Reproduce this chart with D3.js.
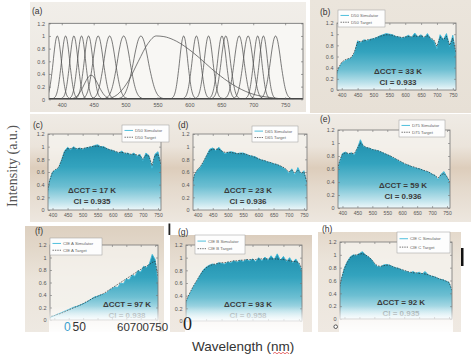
<!DOCTYPE html>
<html><head><meta charset="utf-8">
<script src="https://cdn.jsdelivr.net/npm/d3@7"></script>
<style>body{margin:0;background:#fff}svg{display:block}</style>
</head><body>
<svg id="chart" width="473" height="355"></svg>
<script>
// ---------------- DATA ----------------
const wavelengths = [380,390,400,410,420,430,440,450,460,470,480,490,500,510,520,530,540,550,560,570,580,590,600,610,620,630,640,650,660,670,680,690,700,710,720,730,740,750,760];
const xTicksSpec = [400,450,500,550,600,650,700,750];
const yTicks = [0,0.2,0.4,0.6,0.8,1,1.2];

// panel (a): LED channel spectra (peak nm, FWHM nm, relative amplitude)
const ledPeaks = [393,406,419,431,442,446,457,475,497,524,591,611,630,651,657,678,692,707,716,735];
const ledFwhm  = [15,15,15,15,16,26,19,21,23,27,15,16,16,16,17,18,18,15,15,19];
const ledAmps  = [1,1,1,1,1,0.38,1,1,1,1,1,1,1,1,1,1,1,1,1,1];
const ledProfileOffset = [-1.5,-1.1,-0.8,-0.5,-0.3,-0.15,0,0.15,0.3,0.5,0.8,1.1,1.5];
const ledProfileValue  = [0,0.035,0.17,0.5,0.78,0.94,1,0.94,0.78,0.5,0.17,0.035,0];
const phosphorWl  = [470,490,505,520,535,548,560,575,595,615,635,655,675,700,725,755];
const phosphorVal = [0,0.1,0.3,0.6,0.88,1.0,0.99,0.94,0.82,0.66,0.48,0.32,0.19,0.08,0.03,0];

// panels (b)-(h): simulator and target spectra
const d50bSim = [0.22,0.38,0.48,0.52,0.55,0.57,0.66,0.88,0.85,0.90,0.88,0.91,0.92,0.94,0.97,0.99,1.01,1.00,0.99,0.96,0.95,0.93,0.95,0.98,0.94,1.02,0.95,0.99,0.93,1.01,0.92,0.88,0.74,0.99,0.90,1.01,0.78,0.98,0.62];
const d50bTgt = [0.24,0.40,0.50,0.54,0.56,0.58,0.68,0.86,0.87,0.88,0.90,0.90,0.92,0.94,0.96,0.98,0.99,0.99,0.98,0.96,0.95,0.94,0.95,0.96,0.95,0.97,0.96,0.97,0.95,0.97,0.93,0.90,0.78,0.95,0.90,0.96,0.80,0.93,0.66];
const d50cSim = [0.20,0.45,0.60,0.63,0.66,0.79,0.93,0.99,0.95,1.00,0.96,0.98,0.96,0.98,0.99,1.00,1.02,1.03,1.00,1.00,0.97,0.95,0.94,0.92,0.90,0.93,0.89,0.90,0.87,0.90,0.85,0.88,0.78,0.90,0.86,0.66,0.88,0.92,0.70];
const d50cTgt = [0.22,0.46,0.60,0.64,0.67,0.78,0.92,0.97,0.97,0.98,0.97,0.97,0.97,0.98,0.99,1.00,1.01,1.01,1.00,0.99,0.97,0.95,0.94,0.92,0.91,0.91,0.90,0.89,0.88,0.88,0.87,0.86,0.80,0.87,0.85,0.70,0.86,0.88,0.72];
const d65Sim  = [0.35,0.55,0.63,0.68,0.76,0.86,0.96,0.98,0.94,0.99,0.93,0.89,0.91,0.92,0.91,0.89,0.90,0.90,0.88,0.86,0.85,0.84,0.81,0.79,0.78,0.76,0.75,0.73,0.72,0.70,0.67,0.64,0.58,0.65,0.55,0.67,0.57,0.62,0.40];
const d65Tgt  = [0.37,0.56,0.64,0.69,0.77,0.86,0.94,0.96,0.96,0.96,0.93,0.91,0.91,0.91,0.90,0.89,0.89,0.89,0.88,0.86,0.85,0.83,0.81,0.79,0.78,0.76,0.75,0.73,0.72,0.70,0.68,0.65,0.60,0.63,0.58,0.63,0.58,0.60,0.43];
const d75Sim  = [0.50,0.70,0.84,0.86,0.83,0.85,0.82,0.92,1.05,0.95,0.93,0.92,0.90,0.89,0.88,0.86,0.84,0.82,0.80,0.77,0.75,0.72,0.70,0.67,0.66,0.64,0.62,0.61,0.60,0.58,0.56,0.55,0.52,0.50,0.43,0.52,0.56,0.47,0.38];
const d75Tgt  = [0.52,0.72,0.83,0.85,0.84,0.84,0.84,0.92,1.00,0.96,0.93,0.92,0.90,0.89,0.88,0.86,0.84,0.82,0.80,0.78,0.75,0.73,0.70,0.68,0.66,0.64,0.63,0.61,0.60,0.58,0.57,0.55,0.52,0.50,0.46,0.51,0.53,0.48,0.40];
const cieASim = [0.03,0.05,0.07,0.09,0.11,0.13,0.15,0.17,0.19,0.21,0.22,0.24,0.26,0.28,0.31,0.34,0.37,0.38,0.40,0.41,0.43,0.47,0.50,0.53,0.52,0.59,0.58,0.66,0.64,0.72,0.70,0.79,0.77,0.86,0.84,0.90,1.05,0.97,0.60];
const cieATgt = [0.04,0.06,0.07,0.09,0.10,0.12,0.14,0.16,0.18,0.20,0.22,0.24,0.26,0.29,0.31,0.34,0.36,0.38,0.40,0.42,0.45,0.48,0.51,0.54,0.57,0.60,0.63,0.66,0.69,0.72,0.75,0.78,0.81,0.84,0.86,0.89,0.92,0.94,0.70];
const cieBSim = [0.25,0.35,0.45,0.55,0.63,0.72,0.80,0.85,0.88,0.90,0.89,0.92,0.91,0.90,0.93,0.92,0.95,0.93,0.96,0.94,0.97,0.95,0.98,0.94,1.00,0.95,1.01,0.96,1.03,0.97,1.06,0.96,1.02,0.94,1.00,0.92,0.98,0.90,0.80];
const cieBTgt = [0.27,0.37,0.47,0.56,0.64,0.72,0.79,0.84,0.87,0.89,0.90,0.91,0.92,0.92,0.93,0.94,0.95,0.95,0.96,0.96,0.97,0.97,0.97,0.97,0.98,0.98,0.98,0.98,0.98,0.98,0.98,0.97,0.97,0.96,0.95,0.94,0.94,0.92,0.82];
const cieCSim = [0.40,0.62,0.80,0.90,0.97,1.00,0.99,1.02,1.05,1.00,0.97,0.93,0.86,0.82,0.81,0.84,0.85,0.84,0.82,0.80,0.79,0.77,0.75,0.74,0.72,0.74,0.71,0.73,0.70,0.74,0.69,0.67,0.66,0.64,0.62,0.61,0.59,0.57,0.42];
const cieCTgt = [0.42,0.63,0.79,0.89,0.96,0.99,1.00,1.01,1.02,1.00,0.97,0.93,0.87,0.83,0.82,0.83,0.84,0.84,0.82,0.80,0.79,0.77,0.76,0.74,0.73,0.72,0.72,0.71,0.71,0.70,0.69,0.67,0.66,0.64,0.62,0.61,0.59,0.57,0.45];

const illuminants = ["D50","D50","D65","D75","CIE A","CIE B","CIE C"];
const deltaCCT    = [33,17,23,59,97,93,92];
const ciValues    = ["0.933","0.935","0.936","0.936","0.938","0.958","0.935"];
const panelLabels = ["(b)","(c)","(d)","(e)","(f)","(g)","(h)"];
const simSeries   = [d50bSim,d50cSim,d65Sim,d75Sim,cieASim,cieBSim,cieCSim];
const tgtSeries   = [d50bTgt,d50cTgt,d65Tgt,d75Tgt,cieATgt,cieBTgt,cieCTgt];

// ---------------- LAYOUT ----------------
const layout = [
  {x0:337,x1:456,y0:23,y1:90,  lab:[320,15],  leg:[338,10,47,17],  txt:[398,74],  xl:true},
  {x0:48, x1:161,y0:134,y1:210,lab:[33,128],  leg:[122,125,47,17], txt:[92,193],  xl:true},
  {x0:193,x1:307,y0:134,y1:210,lab:[178,128], leg:[252,126,46,16], txt:[248,193], xl:true},
  {x0:338,x1:450,y0:130,y1:208,lab:[320,122], leg:[399,120,46,17], txt:[403,188], xl:true},
  {x0:50, x1:158,y0:245,y1:320,lab:[35,234],  leg:[50,238,52,17],  txt:[127,307], xl:false},
  {x0:186,x1:302,y0:245,y1:321,lab:[178,235], leg:[195,235,50,19], txt:[248,307], xl:false},
  {x0:340,x1:452,y0:242,y1:319,lab:[322,232], leg:[397,232,53,21], txt:[401,305], xl:false}
];

const svg = d3.select('#chart');
const defs = svg.append('defs');
const SANS = "'Liberation Sans', Arial, sans-serif";
const SERIF = "'Liberation Serif', 'Times New Roman', serif";

function vgrad(id, stops){
  const lg = defs.append('linearGradient').attr('id',id).attr('x1',0).attr('x2',0).attr('y1',0).attr('y2',1);
  stops.forEach(s=>lg.append('stop').attr('offset',s[0]).attr('stop-color',s[1]).attr('stop-opacity', s[2]===undefined?1:s[2]));
  return `url(#${id})`;
}
function rect(x,y,w,h,fill){ return svg.append('rect').attr('x',x).attr('y',y).attr('width',w).attr('height',h).attr('fill',fill); }

// background photo-like panels
rect(30,2,276,110, vgrad('bgA',[[0,'#f1eee9'],[1,'#ebe6df']]));
rect(310,0,161,113, vgrad('bgB',[[0,'#ebe5dc'],[1,'#e7e0d6']]));
rect(30,114,441,108, vgrad('bgR2',[[0,'#efebe5'],[0.3,'#ebe4db'],[0.5,'#ddcdbb'],[0.68,'#e4d9cc'],[1,'#ede7df']]));
rect(25,226,139,106, vgrad('bgF',[[0,'#ddd0c0'],[0.2,'#e2d7c9'],[0.5,'#ebe4da'],[1,'#eee9e2']]));
rect(170,235,142,97, vgrad('bgG',[[0,'#dbcdbd'],[0.15,'#e3d8cb'],[0.5,'#ece5dc'],[1,'#efe9e2']]));
rect(318,232,143,100, vgrad('bgH',[[0,'#e4d9cb'],[0.3,'#ebe4da'],[1,'#efe9e2']]));

// ---------------- PANEL (a) ----------------
(function(){
  const x0=49,x1=303,y0=23.3,y1=99.3;
  const x = d3.scaleLinear().domain([380,778]).range([x0,x1]);
  const y = d3.scaleLinear().domain([0,1.2]).range([y1,y0]);
  rect(x0,y0,x1-x0,y1-y0,'#f8f7f4');
  defs.append('clipPath').attr('id','clipA').append('rect').attr('x',x0).attr('y',y0).attr('width',x1-x0).attr('height',y1-y0);
  const g = svg.append('g').attr('clip-path','url(#clipA)');
  const line = d3.line().x(d=>x(d[0])).y(d=>y(d[1])).curve(d3.curveMonotoneX);
  ledPeaks.forEach((pk,i)=>{
    const pts = ledProfileOffset.map((o,j)=>[pk+o*ledFwhm[i], ledProfileValue[j]*ledAmps[i]]);
    g.append('path').attr('d',line(pts)).attr('fill','none').attr('stroke','#505050').attr('stroke-width',0.75);
  });
  g.append('path').attr('d',line(phosphorWl.map((w,i)=>[w,phosphorVal[i]]))).attr('fill','none').attr('stroke','#505050').attr('stroke-width',0.75);
  g.append('line').attr('x1',x0).attr('x2',x1).attr('y1',y(0)-0.6).attr('y2',y(0)-0.6).attr('stroke','#444').attr('stroke-width',1.2);
  rect(x0,y0,x1-x0,y1-y0,'none').attr('stroke','#6a6a6a').attr('stroke-width',0.8);
  const ax = svg.append('g').attr('transform',`translate(0,${y1})`).call(d3.axisBottom(x).tickValues(xTicksSpec).tickSizeInner(-2).tickSizeOuter(0).tickPadding(3.5));
  const axT = svg.append('g').attr('transform',`translate(0,${y0})`).call(d3.axisTop(x).tickValues(xTicksSpec).tickSizeInner(-2).tickSizeOuter(0).tickFormat(''));
  const ay = svg.append('g').attr('transform',`translate(${x0},0)`).call(d3.axisLeft(y).tickValues(yTicks).tickFormat(d3.format('~g')).tickSizeInner(-2).tickSizeOuter(0).tickPadding(4));
  const ayR = svg.append('g').attr('transform',`translate(${x1},0)`).call(d3.axisRight(y).tickValues(yTicks).tickFormat('').tickSizeInner(-2).tickSizeOuter(0));
  [ax,axT,ay,ayR].forEach(a=>{ a.select('.domain').remove(); a.selectAll('line').attr('stroke','#666').attr('stroke-width',0.6);
    a.selectAll('text').attr('font-family',SANS).attr('font-size',5.5).attr('fill','#555'); });
  svg.append('text').attr('x',32).attr('y',14).text('(a)').attr('font-family',SANS).attr('font-size',8.5).attr('fill','#333');
})();

// ---------------- PANELS (b)-(h) ----------------
layout.forEach((p,k)=>{
  const x = d3.scaleLinear().domain([385,760]).range([p.x0,p.x1]);
  const y = d3.scaleLinear().domain([0,1.2]).range([p.y1,p.y0]);
  rect(p.x0,p.y0,p.x1-p.x0,p.y1-p.y0,'#f7f5f1').attr('opacity',0.7);
  const cid='clip'+k;
  defs.append('clipPath').attr('id',cid).append('rect').attr('x',p.x0).attr('y',p.y0).attr('width',p.x1-p.x0).attr('height',p.y1-p.y0);
  const gid='fill'+k;
  const lg = defs.append('linearGradient').attr('id',gid).attr('gradientUnits','userSpaceOnUse')
    .attr('x1',0).attr('x2',0).attr('y1',y(1.05)).attr('y2',y(0));
  [[0,'#1f8fad'],[0.35,'#33a3be'],[0.65,'#6dbfd2'],[0.88,'#bde2eb'],[1,'#eef8fa']].forEach(s=>lg.append('stop').attr('offset',s[0]).attr('stop-color',s[1]));
  const g = svg.append('g').attr('clip-path',`url(#${cid})`);
  const sim = wavelengths.map((w,i)=>[w,simSeries[k][i]]);
  const tgt = wavelengths.map((w,i)=>[w,tgtSeries[k][i]]);
  g.append('path').attr('d',d3.area().x(d=>x(d[0])).y0(y(0)).y1(d=>y(d[1]))(sim)).attr('fill',`url(#${gid})`);
  g.append('path').attr('d',d3.line().x(d=>x(d[0])).y(d=>y(d[1]))(sim)).attr('fill','none').attr('stroke','#3cb8d8').attr('stroke-width',0.9);
  g.append('path').attr('d',d3.line().x(d=>x(d[0])).y(d=>y(d[1]))(tgt)).attr('fill','none').attr('stroke','#2b2b2b').attr('stroke-width',0.7).attr('stroke-dasharray','1.6,1.2');
  rect(p.x0,p.y0,p.x1-p.x0,p.y1-p.y0,'none').attr('stroke','#777').attr('stroke-width',0.8);
  const axB = svg.append('g').attr('transform',`translate(0,${p.y1})`).call(d3.axisBottom(x).tickValues(xTicksSpec).tickSizeInner(-2).tickSizeOuter(0).tickPadding(3).tickFormat(p.xl?d3.format('d'):''));
  const axT = svg.append('g').attr('transform',`translate(0,${p.y0})`).call(d3.axisTop(x).tickValues(xTicksSpec).tickSizeInner(-2).tickSizeOuter(0).tickFormat(''));
  const axL = svg.append('g').attr('transform',`translate(${p.x0},0)`).call(d3.axisLeft(y).tickValues(yTicks).tickFormat(d3.format('~g')).tickSizeInner(-2).tickSizeOuter(0).tickPadding(3.5));
  const axR = svg.append('g').attr('transform',`translate(${p.x1},0)`).call(d3.axisRight(y).tickValues(yTicks).tickFormat('').tickSizeInner(-2).tickSizeOuter(0));
  [axB,axT,axL,axR].forEach(a=>{ a.select('.domain').remove(); a.selectAll('line').attr('stroke','#777').attr('stroke-width',0.6);
    a.selectAll('text').attr('font-family',SANS).attr('font-size',5).attr('fill','#555'); });
  axL.selectAll('text').attr('font-size',5.5);
  // legend
  const [lx,ly,lw,lh] = p.leg;
  rect(lx,ly,lw,lh,'#fdfdfd').attr('stroke','#9a9a9a').attr('stroke-width',0.5);
  const r1 = ly+lh*0.32, r2 = ly+lh*0.72;
  svg.append('line').attr('x1',lx+2.5).attr('x2',lx+11).attr('y1',r1).attr('y2',r1).attr('stroke','#3cb8d8').attr('stroke-width',0.9);
  svg.append('line').attr('x1',lx+2.5).attr('x2',lx+11).attr('y1',r2).attr('y2',r2).attr('stroke','#333').attr('stroke-width',0.7).attr('stroke-dasharray','1.4,1');
  svg.append('text').attr('x',lx+13).attr('y',r1+1.5).text(illuminants[k]+' Simulator').attr('font-family',SANS).attr('font-size',4.3).attr('fill','#666');
  svg.append('text').attr('x',lx+13).attr('y',r2+1.5).text(illuminants[k]+' Target').attr('font-family',SANS).attr('font-size',4.3).attr('fill','#666');
  // annotations
  svg.append('text').attr('x',p.txt[0]).attr('y',p.txt[1]).attr('text-anchor','middle').text('ΔCCT = '+deltaCCT[k]+' K')
    .attr('font-family',SANS).attr('font-size',8).attr('font-weight','bold').attr('fill','#3a3a3a');
  svg.append('text').attr('x',p.txt[0]).attr('y',p.txt[1]+11).attr('text-anchor','middle').text('CI = '+ciValues[k])
    .attr('font-family',SANS).attr('font-size',8).attr('font-weight','bold').attr('fill','#3a3a3a').attr('opacity',p.xl?1:0.45);
  svg.append('text').attr('x',p.lab[0]).attr('y',p.lab[1]).text(panelLabels[k]).attr('font-family',SANS).attr('font-size',8.5).attr('fill','#333');
  if(!p.xl){
    rect(p.x0-1,306,p.x1-p.x0+2,27, vgrad('wash'+k,[[0,'#ffffff',0],[0.55,'#ffffff',0.75],[1,'#ffffff',0.95]]));
  }
});

// bottom strip white
rect(0,332,473,23,'#ffffff');

// stray marks and texts
svg.append('rect').attr('x',168.5).attr('y',223.5).attr('width',1.8).attr('height',11.5).attr('fill','#222');
svg.append('rect').attr('x',461).attr('y',248).attr('width',2.5).attr('height',18).attr('fill','#111');
svg.append('circle').attr('cx',335.7).attr('cy',326.7).attr('r',1.8).attr('fill','#fff').attr('stroke','#333').attr('stroke-width',0.8);
svg.append('text').attr('x',64).attr('y',331).text('0').attr('font-family',SANS).attr('font-size',12).attr('fill','#3aa0cf');
svg.append('text').attr('x',72.5).attr('y',331).text('50').attr('font-family',SANS).attr('font-size',12).attr('fill','#333');
svg.append('text').attr('x',117).attr('y',331).text('60700750').attr('font-family',SANS).attr('font-size',11.5).attr('fill','#333');
svg.append('text').attr('x',183).attr('y',330).text('0').attr('font-family',SERIF).attr('font-size',18).attr('fill','#222');
svg.append('text').attr('x',12).attr('y',166).attr('transform','rotate(-90,12,166)').attr('text-anchor','middle').attr('dominant-baseline','central')
  .text('Intensity (a.u.)').attr('font-family',SERIF).attr('font-size',14).attr('fill','#555');
svg.append('text').attr('x',192).attr('y',351).text('Wavelength (nm)').attr('font-family',SANS).attr('font-size',13.5).attr('fill','#333');
// spell-check style wavy underline under "nm"
const wave = d3.path(); wave.moveTo(273,353.5);
[275,277,279,281,283,285,287,289].forEach((wx,i)=>wave.lineTo(wx, i%2===0?352.3:353.8));
svg.append('path').attr('d',wave.toString()).attr('fill','none').attr('stroke','#d33').attr('stroke-width',0.7);
</script>
</body></html>
